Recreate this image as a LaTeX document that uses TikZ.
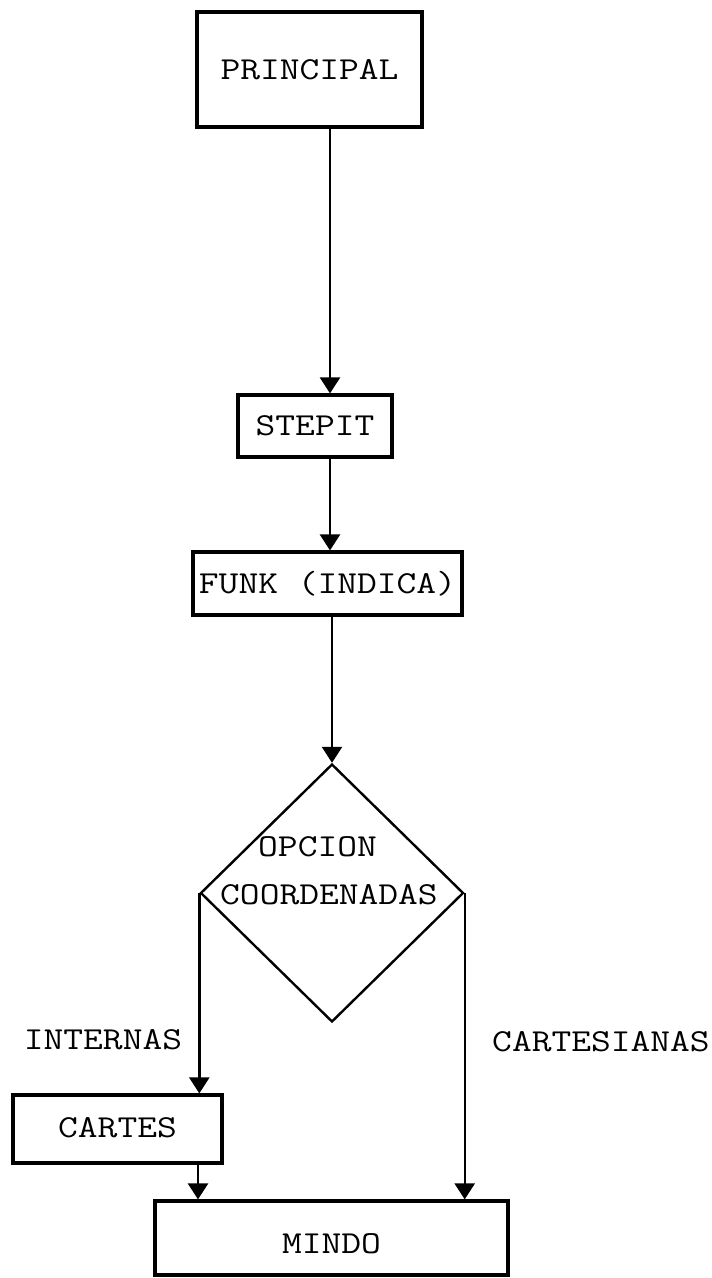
\documentclass[tikz,border=0pt]{standalone}
\usepackage{graphicx}
\usepackage{tikz}
\usetikzlibrary{arrows.meta,positioning,shapes.geometric}

% typewriter lettering, a bit wider than Latin Modern Mono
\newcommand{\tw}[1]{\scalebox{1.2}[1]{#1}}

\begin{document}
\begin{tikzpicture}[
  x=1pt,y=-1pt,
  font=\fontsize{32}{38}\selectfont\ttfamily,
  box/.style={draw,line width=3.2pt,inner sep=0pt,align=center},
  decision/.style={draw,diamond,line width=2.4pt,inner sep=0pt,minimum width=263pt,minimum height=258pt},
  tag/.style={inner sep=0pt},
  arrow/.style={-{Triangle[width=20pt,length=16pt]},line width=2.4pt}
]
\useasboundingbox (0,0) rectangle (712,1278);

\node[box,minimum width=225pt,minimum height=115pt] (principal) at (309.5,69.5) {\tw{PRINCIPAL}};
\node[box,minimum width=154pt,minimum height=62pt] (stepit) at (315,426) {\tw{STEPIT}};
\node[box,minimum width=269pt,minimum height=63pt] (funk) at (327.5,583.5) {\tw{FUNK (INDICA)}};

\node[decision] (opcion) at (332,893) {};
\node[tag,anchor=west] (opt1) at (258,847) {\tw{OPCION}};
\node[tag,anchor=west] (opt2) at (220,895) {\tw{COORDENADAS}};

\node[tag] (internas) at (103,1040) {\tw{INTERNAS}};
\node[tag] (cartesianas) at (601,1042) {\tw{CARTESIANAS}};

\node[box,minimum width=209pt,minimum height=68pt] (cartes) at (117.5,1129) {\raisebox{-8pt}[0pt][0pt]{\tw{CARTES}}};
\node[box,minimum width=353pt,minimum height=74pt] (mindo) at (331.5,1238) {\raisebox{-15pt}[0pt][0pt]{\tw{MINDO}}};

\coordinate (spine) at (330,0);
\coordinate (left) at (198,0);

\draw[arrow] (principal.south -| spine) -- (stepit.north -| spine);
\draw[arrow] (stepit.south -| spine) -- (funk.north -| spine);
\draw[arrow] (funk.south -| opcion.north) -- (opcion.north);
\draw[arrow] (opcion.west) -- (opcion.west |- cartes.north);
\draw[arrow] (opcion.east) -- (opcion.east |- mindo.north);
\draw[arrow] (cartes.south -| left) -- (mindo.north -| left);
\end{tikzpicture}
\end{document}
